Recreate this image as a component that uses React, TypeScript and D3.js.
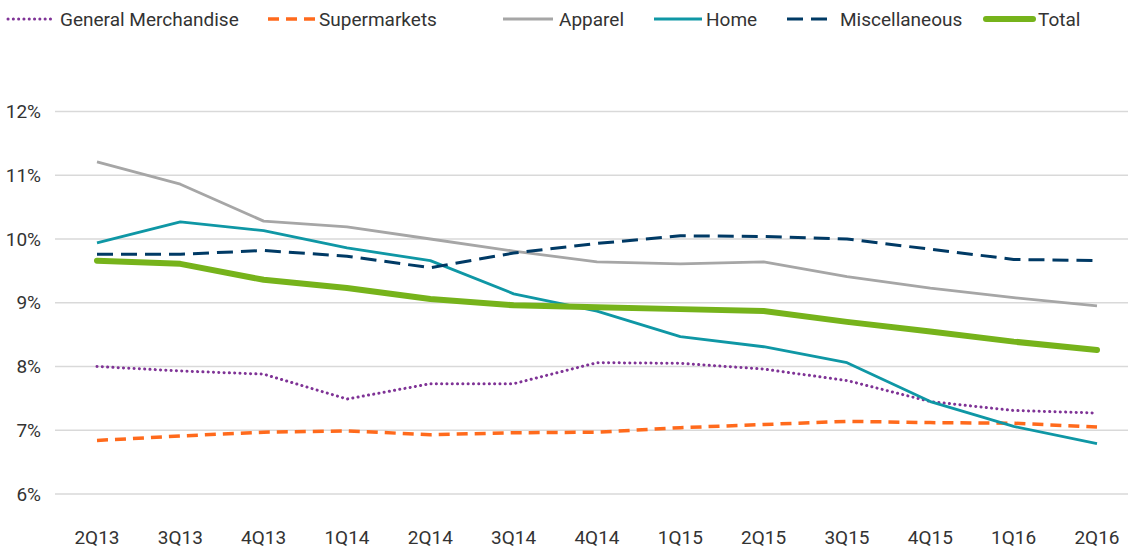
import React from "react";
import * as d3 from "d3";

const categories = ["2Q13","3Q13","4Q13","1Q14","2Q14","3Q14","4Q14","1Q15","2Q15","3Q15","4Q15","1Q16","2Q16"];
const generalMerchandise = [8.0,7.93,7.88,7.49,7.73,7.73,8.06,8.05,7.96,7.78,7.45,7.31,7.27];
const supermarkets = [6.84,6.91,6.97,6.99,6.93,6.96,6.97,7.04,7.09,7.14,7.12,7.11,7.05];
const apparel = [11.21,10.86,10.28,10.19,10.0,9.81,9.64,9.61,9.64,9.41,9.23,9.08,8.95];
const home = [9.94,10.27,10.13,9.86,9.66,9.14,8.87,8.47,8.31,8.06,7.45,7.06,6.79];
const miscellaneous = [9.76,9.76,9.82,9.73,9.55,9.78,9.93,10.05,10.04,10.0,9.84,9.68,9.66];
const total = [9.66,9.61,9.36,9.23,9.06,8.96,8.93,8.9,8.87,8.7,8.55,8.39,8.26];
const yTicks = [6,7,8,9,10,11,12];

const seriesNames = ["General Merchandise","Supermarkets","Apparel","Home","Miscellaneous","Total"];
const seriesValues = [generalMerchandise, supermarkets, apparel, home, miscellaneous, total];

const styles = [
  { color: "#7F3396", width: 3, dash: "0.1 5.2", cap: "round" },
  { color: "#FF6A1C", width: 3.5, dash: "11 7", cap: "butt" },
  { color: "#A6A6A6", width: 2.8, dash: null, cap: "butt" },
  { color: "#0F97A5", width: 2.8, dash: null, cap: "butt" },
  { color: "#003A65", width: 3, dash: "16 8", cap: "butt" },
  { color: "#76B31B", width: 6, dash: null, cap: "round" },
];
const legendPos = [
  { x1: 8, x2: 52, tx: 60 },
  { x1: 268, x2: 316, tx: 319 },
  { x1: 503, x2: 553, tx: 559 },
  { x1: 654, x2: 702, tx: 706 },
  { x1: 787, x2: 835, tx: 840 },
  { x1: 986, x2: 1033, tx: 1038 },
];

export default function App() {
  const W = 1128, H = 549;
  const x = d3.scalePoint().domain(categories).range([97, 1097]);
  const y = d3.scaleLinear().domain([6, 12]).range([494, 111.5]);
  const line = d3.line<number>().x((_, i) => x(categories[i]) as number).y((d) => y(d));
  const font = "Roboto, 'Open Sans', sans-serif";
  return (
    <div style={{ position: "fixed", left: 0, top: 0 }}>
      <svg width={W} height={H} style={{ display: "block", background: "#fff" }}>
        {yTicks.map((t) => (
          <g key={t}>
            <line x1={55} x2={1128} y1={y(t)} y2={y(t)} stroke="#D9D9D9" strokeWidth={1.5} />
            <text x={41} y={y(t)} dy="0.35em" textAnchor="end" fontFamily={font} fontSize={19} fill="#333">{t}%</text>
          </g>
        ))}
        {categories.map((c) => (
          <text key={c} x={x(c)} y={537} dy="0.35em" textAnchor="middle" fontFamily={font} fontSize={19} fill="#333">{c}</text>
        ))}
        {seriesValues.map((vals, i) => (
          <path key={i} d={line(vals) || ""} fill="none" stroke={styles[i].color} strokeWidth={styles[i].width}
            strokeDasharray={styles[i].dash || undefined} strokeLinecap={styles[i].cap as any} strokeLinejoin="round" />
        ))}
        {seriesNames.map((n, i) => (
          <g key={n}>
            <line x1={legendPos[i].x1} x2={legendPos[i].x2} y1={19} y2={19} stroke={styles[i].color}
              strokeWidth={styles[i].width} strokeDasharray={styles[i].dash || undefined} strokeLinecap={styles[i].cap as any} />
            <text x={legendPos[i].tx} y={19} dy="0.35em" fontFamily={font} fontSize={19} fill="#333">{n}</text>
          </g>
        ))}
      </svg>
    </div>
  );
}
